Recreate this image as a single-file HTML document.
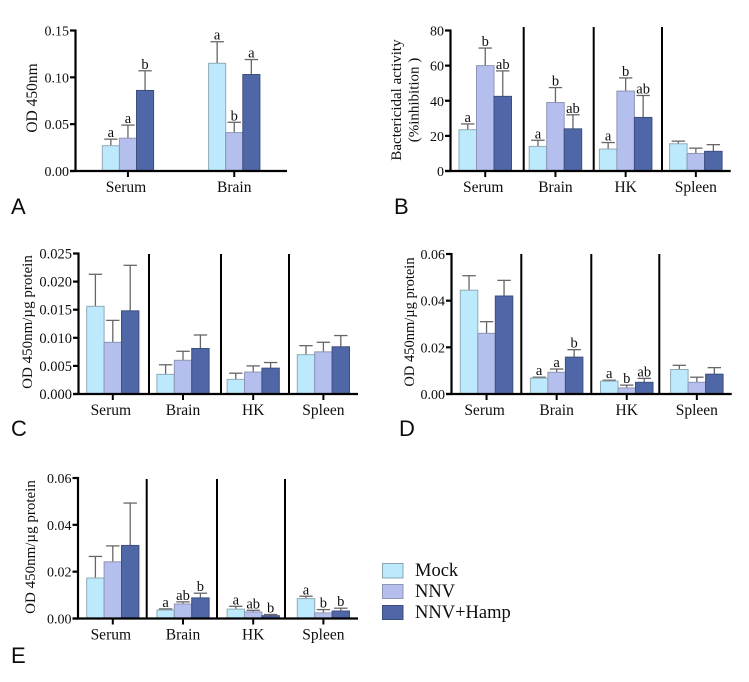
<!DOCTYPE html>
<html lang="en">
<head>
<meta charset="utf-8">
<title>Bar chart panels</title>
<style>
html,body{margin:0;padding:0;background:#fff;}
svg{display:block;}
text{font-family:"Liberation Serif",serif;fill:#0d0d0d;}
</style>
</head>
<body>
<svg id="figure" xmlns="http://www.w3.org/2000/svg" width="749" height="682" viewBox="0 0 749 682">
  <g>
    <rect x="382.5" y="563.5" width="20.5" height="14.5" fill="#bde9fd" stroke="#8aa5ae"/>
    <text x="415" y="576" font-size="18.5">Mock</text>
    <rect x="382.5" y="584.5" width="20.5" height="14" fill="#b5bfee" stroke="#8f96b5"/>
    <text x="415" y="597" font-size="18.5">NNV</text>
    <rect x="382.5" y="605.5" width="20.5" height="14" fill="#4f67a6" stroke="#3d4f80"/>
    <text x="415" y="618" font-size="18.5">NNV+Hamp</text>
  </g>
</svg>
<script>
const fourTissues = ['Serum', 'Brain', 'HK', 'Spleen'];

const panelACategories = ['Serum', 'Brain'];
const panelATicks = ['0.00', '0.05', '0.10', '0.15'];
const panelAMock = [0.027, 0.115];
const panelANnv = [0.035, 0.041];
const panelAHamp = [0.086, 0.103];
const panelAMockUpper = [0.034, 0.138];
const panelANnvUpper = [0.049, 0.052];
const panelAHampUpper = [0.107, 0.119];
const panelALetters = [['a', 'a', 'b'], ['a', 'b', 'a']];

const panelBTicks = ['0', '20', '40', '60', '80'];
const panelBMock = [23.5, 14, 12.5, 15.5];
const panelBNnv = [60, 39, 45.5, 10];
const panelBHamp = [42.5, 24, 30.5, 11.2];
const panelBMockUpper = [26.8, 17.5, 16.2, 17];
const panelBNnvUpper = [70, 47.5, 53, 13];
const panelBHampUpper = [57, 32, 43, 15];
const panelBLetters = [['a', 'b', 'ab'], ['a', 'b', 'ab'], ['a', 'b', 'ab'], ['', '', '']];

const panelCTicks = ['0.000', '0.005', '0.010', '0.015', '0.020', '0.025'];
const panelCMock = [0.0156, 0.0035, 0.0026, 0.007];
const panelCNnv = [0.0092, 0.006, 0.0039, 0.0075];
const panelCHamp = [0.0148, 0.0081, 0.0046, 0.0084];
const panelCMockUpper = [0.0213, 0.0052, 0.0037, 0.0086];
const panelCNnvUpper = [0.0131, 0.0076, 0.005, 0.0092];
const panelCHampUpper = [0.0229, 0.0105, 0.0056, 0.0104];
const panelCLetters = [['', '', ''], ['', '', ''], ['', '', ''], ['', '', '']];

const panelDTicks = ['0.00', '0.02', '0.04', '0.06'];
const panelDMock = [0.0445, 0.0068, 0.0055, 0.0105];
const panelDNnv = [0.026, 0.0093, 0.0026, 0.005];
const panelDHamp = [0.042, 0.0158, 0.005, 0.0085];
const panelDMockUpper = [0.0507, 0.0072, 0.0059, 0.0123];
const panelDNnvUpper = [0.031, 0.0107, 0.0038, 0.0072];
const panelDHampUpper = [0.0487, 0.019, 0.0067, 0.0113];
const panelDLetters = [['', '', ''], ['a', 'a', 'b'], ['a', 'b', 'ab'], ['', '', '']];

const panelETicks = ['0.00', '0.02', '0.04', '0.06'];
const panelEMock = [0.0173, 0.0036, 0.004, 0.0085];
const panelENnv = [0.0242, 0.0062, 0.0028, 0.0024];
const panelEHamp = [0.0312, 0.0088, 0.0012, 0.0032];
const panelEMockUpper = [0.0265, 0.0041, 0.0052, 0.0095];
const panelENnvUpper = [0.031, 0.0071, 0.0035, 0.0038];
const panelEHampUpper = [0.0493, 0.0108, 0.0017, 0.0044];
const panelELetters = [['', '', ''], ['a', 'ab', 'b'], ['a', 'ab', 'b'], ['a', 'b', 'b']];

const seriesNames = ['mock', 'nnv', 'nnv-hamp'];
const seriesFills = ['#bde9fd', '#b5bfee', '#4f67a6'];
const seriesStrokes = ['#8fabb5', '#8f96b5', '#3d4f80'];
const svgNS = 'http://www.w3.org/2000/svg';
const figure = document.getElementById('figure');

function shape(parent, tag, attrs, content) {
  const node = document.createElementNS(svgNS, tag);
  for (const key in attrs) node.setAttribute(key, attrs[key]);
  if (content !== undefined) node.textContent = content;
  parent.appendChild(node);
  return node;
}

function drawPanel(p) {
  const group = shape(figure, 'g', {});
  
  

  const tickValues = p.ticks.map(Number);
  const yMax = Math.max.apply(null, tickValues);
  const yScale = function (v) { return p.y0 - (v / yMax) * (p.y0 - p.yTop); };
  const barLeft = function (g, s) { return p.x0 + g * p.step + s * p.barW; };

  p.series.forEach(function (values, s) {
    values.forEach(function (value, g) {
      const left = barLeft(g, s);
      const top = yScale(value);
      const upper = yScale(p.uppers[s][g]);
      const mid = left + p.barW / 2;

      const stem = shape(group, 'line', {x1: mid, x2: mid, y1: top, y2: upper, stroke: '#666', 'stroke-width': 1.3});
      
      

      const cap = shape(group, 'line', {x1: mid - 6.7, x2: mid + 6.7, y1: upper, y2: upper, stroke: '#666', 'stroke-width': 1.3});
      
      

      const bar = shape(group, 'rect', {x: left, y: top, width: p.barW, height: p.y0 - top, fill: seriesFills[s], stroke: seriesStrokes[s], 'stroke-width': 1});
      
      

      const letter = p.letters[g][s];
      if (letter) {
        const mark = shape(group, 'text', {x: mid, y: upper - 2, 'font-size': 14.5, 'text-anchor': 'middle'}, letter);
        
        
      }
    });
  });

  p.dividers.forEach(function (x) {
    const divider = shape(group, 'line', {x1: x, x2: x, y1: p.dividerTop, y2: p.y0, stroke: '#000', 'stroke-width': 2});
    
    
  });

  const yAxis = shape(group, 'line', {x1: p.axisX, x2: p.axisX, y1: p.yTop - 1, y2: p.y0 + 1, stroke: '#000', 'stroke-width': 2.2});
  
  

  const xAxis = shape(group, 'line', {x1: p.axisX - 5.5, x2: p.axisEnd, y1: p.y0, y2: p.y0, stroke: '#000', 'stroke-width': 2.2});
  
  

  p.ticks.forEach(function (label, i) {
    const y = yScale(tickValues[i]);
    const tick = shape(group, 'line', {x1: p.axisX - 5.5, x2: p.axisX, y1: y, y2: y, stroke: '#000', 'stroke-width': 2.2});
    
    

    const tickLabel = shape(group, 'text', {x: p.axisX - 6.5, y: y + 5, 'font-size': p.tickSize, 'text-anchor': 'end'}, label);
    
    
  });

  p.categories.forEach(function (label, g) {
    const center = barLeft(g, 1.5);
    const tick = shape(group, 'line', {x1: center, x2: center, y1: p.y0, y2: p.y0 + 6, stroke: '#000', 'stroke-width': 2});
    
    

    const labelX = g === 0 ? center - 2 : center;
    const catLabel = shape(group, 'text', {x: labelX, y: p.y0 + 21, 'font-size': 15.5, 'text-anchor': 'middle'}, label);
    
    
  });

  p.titleLines.forEach(function (line, i) {
    const tx = p.titleX + i * 17.5;
    const title = shape(group, 'text', {x: tx, y: p.titleY, 'font-size': p.titleSize, 'text-anchor': 'middle', transform: 'rotate(-90 ' + tx + ' ' + p.titleY + ')'}, line);
    
    
  });

  const panelLetter = shape(group, 'text', {x: p.letterX, y: p.letterY, 'font-size': 22, style: 'font-family:"Liberation Sans",sans-serif'}, p.id);
  
  
}

drawPanel({id: 'A', categories: panelACategories, ticks: panelATicks,
  series: [panelAMock, panelANnv, panelAHamp], uppers: [panelAMockUpper, panelANnvUpper, panelAHampUpper], letters: panelALetters,
  axisX: 75.5, axisEnd: 287, y0: 171, yTop: 30.5, x0: 102.3, step: 106.3, barW: 17.1, dividers: [], dividerTop: 30,
  tickSize: 14, titleLines: ['OD 450nm'], titleX: 37, titleY: 98, titleSize: 15.5, letterX: 11, letterY: 214});

drawPanel({id: 'B', categories: fourTissues, ticks: panelBTicks,
  series: [panelBMock, panelBNnv, panelBHamp], uppers: [panelBMockUpper, panelBNnvUpper, panelBHampUpper], letters: panelBLetters,
  axisX: 450.5, axisEnd: 730.7, y0: 171, yTop: 30.5, x0: 459, step: 70.2, barW: 17.5, dividers: [523.7, 593.7, 662], dividerTop: 27,
  tickSize: 14, titleLines: ['Bactericidal activity', '(%inhibition )'], titleX: 401, titleY: 100, titleSize: 15, letterX: 394, letterY: 214});

drawPanel({id: 'C', categories: fourTissues, ticks: panelCTicks,
  series: [panelCMock, panelCNnv, panelCHamp], uppers: [panelCMockUpper, panelCNnvUpper, panelCHampUpper], letters: panelCLetters,
  axisX: 78.5, axisEnd: 358, y0: 394, yTop: 253.5, x0: 86.7, step: 70.2, barW: 17.4, dividers: [149, 221, 289], dividerTop: 254,
  tickSize: 14.5, titleLines: ['OD 450nm/µg protein'], titleX: 32, titleY: 322, titleSize: 15, letterX: 11, letterY: 436});

drawPanel({id: 'D', categories: fourTissues, ticks: panelDTicks,
  series: [panelDMock, panelDNnv, panelDHamp], uppers: [panelDMockUpper, panelDNnvUpper, panelDHampUpper], letters: panelDLetters,
  axisX: 451.5, axisEnd: 731.7, y0: 394, yTop: 254, x0: 460.3, step: 70.1, barW: 17.5, dividers: [521.3, 591.3, 659.3], dividerTop: 254,
  tickSize: 14, titleLines: ['OD 450nm/µg protein'], titleX: 414, titleY: 322, titleSize: 14.5, letterX: 399, letterY: 436});

drawPanel({id: 'E', categories: fourTissues, ticks: panelETicks,
  series: [panelEMock, panelENnv, panelEHamp], uppers: [panelEMockUpper, panelENnvUpper, panelEHampUpper], letters: panelELetters,
  axisX: 78, axisEnd: 358, y0: 618.5, yTop: 478, x0: 86.7, step: 70.2, barW: 17.4, dividers: [146.7, 217, 285], dividerTop: 479,
  tickSize: 14, titleLines: ['OD 450nm/µg protein'], titleX: 35, titleY: 547, titleSize: 15, letterX: 11, letterY: 663});
</script>
</body>
</html>
